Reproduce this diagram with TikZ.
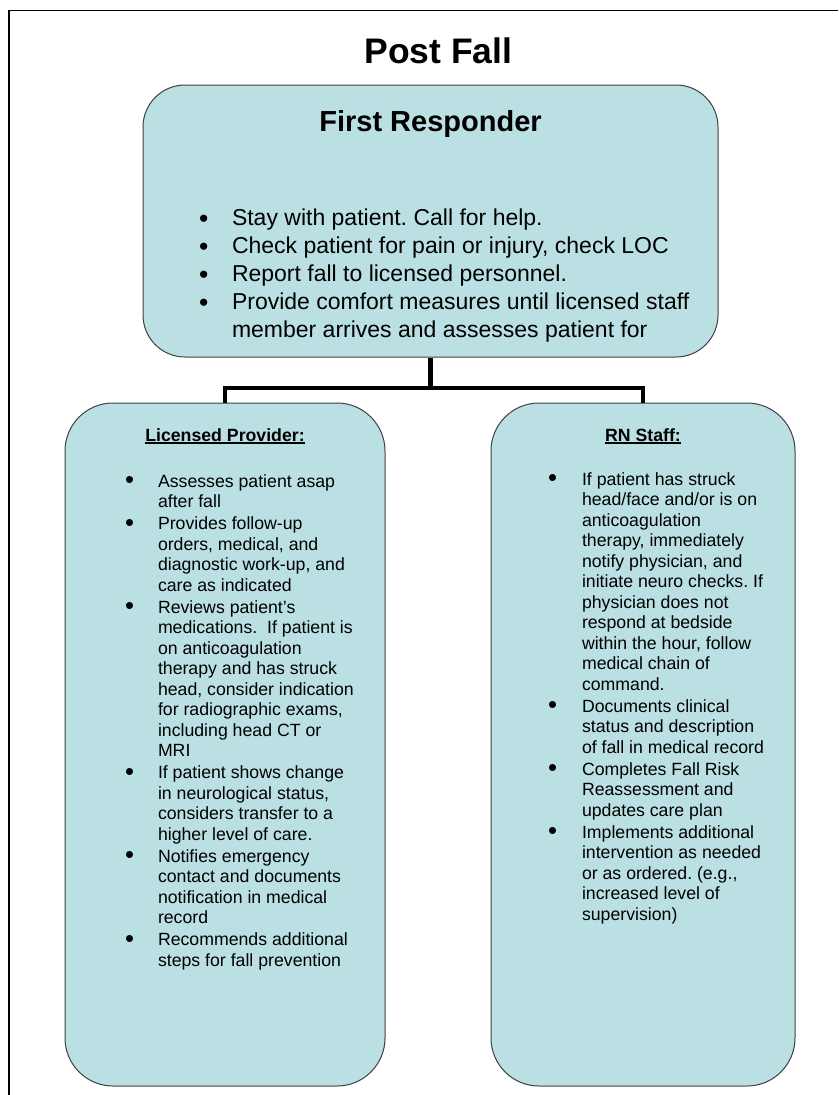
\documentclass[tikz,border=0pt]{standalone}
\usepackage{fontspec}
\setmainfont{Liberation Sans}
\usepackage{array}
\usepackage{graphicx}
\definecolor{boxblue}{RGB}{187,224,227}
\newcommand{\hd}[1]{\setbox0\hbox{#1}\rlap{\rule[-2.6pt]{\wd0}{1.3pt}}\box0}
\newcommand{\bul}[1][1.45]{\raisebox{-0.1em}{\scalebox{#1}{\textbullet}}}
\frenchspacing

\begin{document}
\begin{tikzpicture}[x=1pt,y=-1pt,
  panel/.style={draw=black!75,line width=1pt,fill=boxblue,rounded corners=#1,inner sep=0pt},
  conn/.style={line width=4.5pt,black},
  txt/.style={inner sep=0pt,outer sep=0pt}]
\useasboundingbox (0,0) rectangle (838,1095);
\draw[line width=1.2pt] (9,1095) -- (9,10.5) -- (838,10.5);
\node[txt,anchor=base,font=\bfseries\fontsize{35.5}{40}\selectfont] (title) at (438.5,63) {Post Fall};
\node[panel=42pt,minimum width=575pt,minimum height=272pt] (resp) at (430.5,221) {};
\node[panel=48pt,minimum width=320pt,minimum height=683pt] (prov) at (225,744.5) {};
\node[panel=48pt,minimum width=304pt,minimum height=683pt] (rn) at (643,744.5) {};
\draw[conn] (prov.north) -- ++(0,-14.5) coordinate (fork) -| (rn.north);
\draw[conn] (resp.south) -- (resp.south |- fork);
\node[txt,anchor=base,font=\bfseries\fontsize{29}{34}\selectfont] (resphead) at (430.5,131) {First Responder};
\node[txt,anchor=base west,font=\fontsize{23}{28}\selectfont] (resplist) at (199,225) {%
\begin{tabular}[t]{@{}p{33pt}@{}l@{}}
\bul[1.15] & Stay with patient. Call for help.\\
\bul[1.15] & Check patient for pain or injury, check LOC\\
\bul[1.15] & Report fall to licensed personnel.\\
\bul[1.15] & Provide comfort measures until licensed staff\\
 & member arrives and assesses patient for
\end{tabular}};
\begin{scope}[font=\fontsize{17.7}{20.5}\selectfont]
\node[txt,anchor=base,font=\bfseries\fontsize{17.7}{20.5}\selectfont] (provhead) at (225,441) {\hd{Licensed Provider:}};
\node[txt,anchor=base,font=\bfseries\fontsize{17.7}{20.5}\selectfont] (rnhead) at (643,441) {\hd{RN Staff:}};
\node[txt,anchor=base west] (provlist) at (125,487) {%
\begin{tabular}[t]{@{}p{33pt}@{}l@{}}
\bul & Assesses patient asap\\
 & after fall\\[1.5pt]
\bul & Provides follow-up\\
 & orders, medical, and\\
 & diagnostic work-up, and\\
 & care as indicated\\[1.5pt]
\bul & Reviews patient’s\\
 & medications.\ \ If patient is\\
 & on anticoagulation\\
 & therapy and has struck\\
 & head, consider indication\\
 & for radiographic exams,\\
 & including head CT or\\
 & MRI\\[1.5pt]
\bul & If patient shows change\\
 & in neurological status,\\
 & considers transfer to a\\
 & higher level of care.\\[1.5pt]
\bul & Notifies emergency\\
 & contact and documents\\
 & notification in medical\\
 & record\\[1.5pt]
\bul & Recommends additional\\
 & steps for fall prevention
\end{tabular}};
\node[txt,anchor=base west] (rnlist) at (548,485) {%
\begin{tabular}[t]{@{}p{34pt}@{}l@{}}
\bul & If patient has struck\\
 & head/face and/or is on\\
 & anticoagulation\\
 & therapy, immediately\\
 & notify physician, and\\
 & initiate neuro checks. If\\
 & physician does not\\
 & respond at bedside\\
 & within the hour, follow\\
 & medical chain of\\
 & command.\\[1.5pt]
\bul & Documents clinical\\
 & status and description\\
 & of fall in medical record\\[1.5pt]
\bul & Completes Fall Risk\\
 & Reassessment and\\
 & updates care plan\\[1.5pt]
\bul & Implements additional\\
 & intervention as needed\\
 & or as ordered. (e.g.,\\
 & increased level of\\
 & supervision)
\end{tabular}};
\end{scope}
\end{tikzpicture}
\end{document}
